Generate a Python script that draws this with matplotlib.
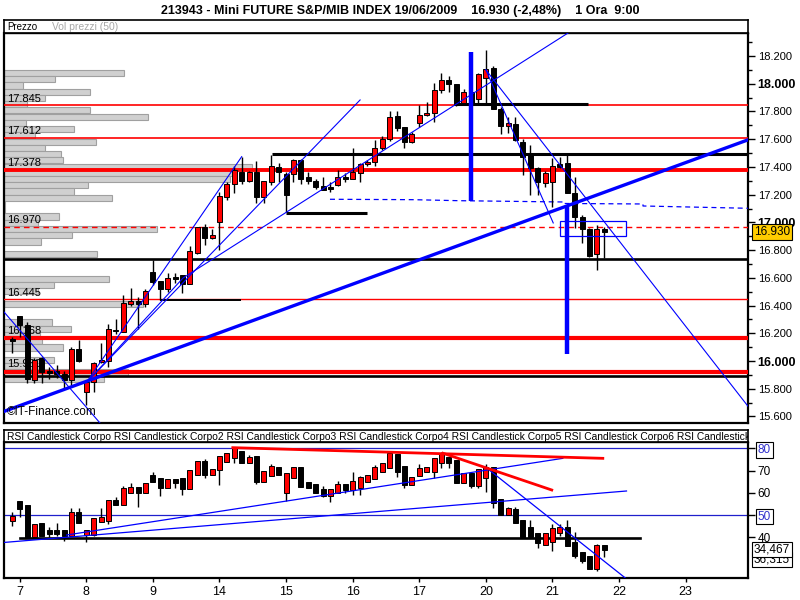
import matplotlib
matplotlib.use('Agg')
import matplotlib.pyplot as plt
from matplotlib.patches import Rectangle
import matplotlib.transforms as mtransforms

plt.rcParams['font.family'] = ['Liberation Sans', 'DejaVu Sans']

# ---------------- DATA ----------------
title = "213943 - Mini FUTURE S&P/MIB INDEX 19/06/2009    16.930 (-2,48%)    1 Ora  9:00"
day_labels = ['7', '8', '9', '14', '15', '16', '17', '20', '21', '22', '23']
day_ticks = [1, 10, 19, 28, 37, 46, 55, 64, 73, 82, 91]

p_open = [16.155, 16.325, 16.26, 15.865, 16.02, 15.93, 15.925, 15.91, 15.86, 16.085,
          15.78, 15.85, 15.99, 16.0, 16.225, 16.21, 16.41, 16.43, 16.41, 16.64,
          16.58, 16.52, 16.60, 16.62, 16.555, 16.78, 16.97, 16.89, 17.0, 17.18,
          17.277, 17.366, 17.30, 17.366, 17.18, 17.294, 17.397, 17.35, 17.35, 17.45,
          17.325, 17.30, 17.263, 17.258, 17.27, 17.325, 17.31, 17.354, 17.42, 17.438,
          17.54, 17.60, 17.77, 17.686, 17.58, 17.715, 17.773, 17.787, 17.955, 18.03,
          17.996, 17.86, 17.94, 17.888, 18.04, 18.116, 17.818, 17.695, 17.707, 17.578,
          17.486, 17.395, 17.287, 17.294, 17.42, 17.426, 17.21, 17.04, 16.95, 16.77,
          16.955]
p_high = [16.175, 16.325, 16.285, 16.025, 16.03, 15.96, 15.97, 15.925, 16.10, 16.15,
          15.85, 15.995, 16.13, 16.27, 16.30, 16.475, 16.53, 16.46, 16.52, 16.73,
          16.58, 16.635, 16.635, 16.62, 16.83, 16.97, 16.985, 16.95, 17.22, 17.29,
          17.41, 17.47, 17.37, 17.44, 17.30, 17.486, 17.43, 17.36, 17.46, 17.46,
          17.36, 17.31, 17.33, 17.29, 17.38, 17.354, 17.535, 17.43, 17.45, 17.595,
          17.62, 17.806, 17.80, 17.69, 17.65, 17.847, 17.87, 18.003, 18.08, 18.056,
          17.996, 17.96, 17.96, 18.08, 18.24, 18.13, 17.835, 17.758, 17.758, 17.60,
          17.558, 17.40, 17.37, 17.462, 17.47, 17.498, 17.33, 17.053, 16.96, 16.98,
          16.97]
p_low = [16.055, 16.17, 15.84, 15.84, 15.84, 15.87, 15.88, 15.80, 15.83, 15.99,
         15.68, 15.78, 15.985, 15.96, 16.195, 16.21, 16.40, 16.23, 16.39, 16.55,
         16.44, 16.50, 16.56, 16.49, 16.555, 16.77, 16.84, 16.88, 16.80, 17.16,
         17.21, 17.28, 17.29, 17.14, 17.14, 17.27, 17.29, 17.077, 17.29, 17.28,
         17.277, 17.24, 17.23, 17.22, 17.26, 17.294, 17.31, 17.29, 17.41, 17.41,
         17.52, 17.59, 17.66, 17.54, 17.57, 17.686, 17.765, 17.727, 17.93, 17.943,
         17.84, 17.847, 17.85, 17.847, 17.847, 17.815, 17.638, 17.647, 17.59, 17.342,
         17.198, 17.198, 17.258, 17.113, 17.39, 17.21, 16.957, 16.854, 16.75, 16.657,
         16.74]
p_close = [16.145, 16.26, 15.87, 16.01, 15.92, 15.915, 15.905, 15.86, 16.085, 16.0,
           15.85, 15.985, 16.01, 16.23, 16.215, 16.42, 16.43, 16.41, 16.505, 16.57,
           16.52, 16.60, 16.595, 16.555, 16.79, 16.97, 16.885, 16.91, 17.19, 17.275,
           17.38, 17.30, 17.366, 17.185, 17.30, 17.407, 17.366, 17.20, 17.45, 17.313,
           17.30, 17.258, 17.234, 17.239, 17.325, 17.31, 17.366, 17.42, 17.436, 17.54,
           17.60, 17.76, 17.68, 17.58, 17.638, 17.775, 17.79, 17.955, 18.03, 18.0,
           17.85, 17.943, 17.86, 18.07, 18.104, 17.815, 17.695, 17.715, 17.594, 17.474,
           17.39, 17.294, 17.354, 17.407, 17.40, 17.21, 17.04, 16.95, 16.758, 16.95,
           16.93]

r_open = [47.45, 56.3, 54.5, 40.25, 46.25, 43.25, 43.25, 43.25, 40.55, 51.2,
          41.0, 41.0, 46.7, 47.45, 56.75, 54.5, 60.05, 62.6, 59.75, 68.0,
          66.5, 62.0, 66.2, 66.5, 61.55, 68.0, 74.3, 68.0, 70.25, 74.0,
          75.5, 78.8, 73.25, 76.55, 64.7, 67.7, 71.75, 59.75, 66.8, 71.45,
          64.7, 63.8, 61.55, 58.7, 60.05, 63.8, 61.25, 62.3, 65.0, 66.05,
          69.5, 71.0, 77.3, 72.05, 63.5, 67.7, 69.2, 69.2, 73.55, 76.25,
          74.75, 64.25, 68.75, 63.2, 66.8, 71.45, 57.2, 50.0, 52.7, 47.75,
          44.45, 41.75, 36.5, 38.0, 41.75, 44.75, 38.0, 33.2, 31.55, 25.7,
          36.5]
r_high = [51.2, 56.3, 54.5, 45.95, 46.25, 44.45, 46.25, 43.25, 53.0, 53.0,
          43.25, 48.5, 53.0, 56.75, 58.25, 63.05, 64.25, 62.6, 64.25, 69.5,
          66.5, 66.2, 66.2, 66.5, 70.25, 74.3, 75.0, 70.55, 76.55, 77.75,
          80.75, 78.8, 77.0, 76.55, 69.8, 72.8, 71.75, 69.05, 71.45, 71.45,
          64.7, 63.8, 63.05, 61.55, 65.3, 63.8, 69.5, 67.7, 68.0, 72.5,
          73.25, 78.2, 77.3, 72.05, 67.25, 72.8, 71.45, 75.8, 78.2, 76.25,
          74.75, 68.75, 68.75, 70.7, 72.8, 71.45, 57.2, 53.75, 53.75, 47.75,
          47.75, 41.75, 41.75, 45.8, 45.8, 47.75, 42.2, 33.2, 31.55, 36.8,
          36.5]
r_low = [45.2, 49.25, 39.8, 39.8, 40.4, 39.95, 40.5, 38.45, 40.55, 46.25,
         38.0, 40.7, 46.7, 46.0, 54.5, 54.5, 60.05, 53.75, 59.75, 64.7,
         58.7, 62.0, 62.0, 59.0, 61.55, 68.0, 66.5, 68.0, 63.5, 74.0,
         73.25, 73.25, 73.25, 64.0, 64.7, 67.7, 68.0, 56.3, 66.8, 62.75,
         62.0, 59.75, 58.25, 56.0, 60.05, 60.05, 59.0, 59.0, 65.0, 66.05,
         69.5, 71.0, 67.0, 62.0, 63.5, 67.7, 69.2, 66.8, 71.0, 71.0,
         64.25, 64.25, 62.0, 62.0, 60.5, 53.3, 50.0, 50.0, 46.25, 40.25,
         39.95, 35.3, 36.5, 33.8, 40.7, 36.2, 30.5, 28.25, 25.7, 24.8,
         31.0]
r_close = [49.7, 52.55, 39.8, 45.95, 40.7, 41.3, 41.3, 40.55, 51.2, 46.25,
           43.25, 48.5, 48.95, 56.75, 54.5, 62.3, 62.6, 59.75, 64.25, 64.7,
           62.0, 66.2, 64.25, 61.55, 70.25, 74.3, 68.0, 70.55, 76.55, 77.75,
           80.0, 73.25, 76.25, 65.0, 69.8, 72.2, 68.0, 69.05, 71.45, 62.75,
           62.0, 59.75, 58.55, 61.55, 63.8, 61.25, 65.3, 66.95, 68.0, 71.75,
           73.25, 77.75, 69.5, 63.5, 67.25, 71.3, 71.45, 75.5, 77.75, 73.55,
           64.25, 68.75, 63.2, 70.7, 71.45, 55.25, 50.0, 53.0, 46.25, 40.25,
           39.95, 37.25, 41.75, 44.0, 44.75, 36.2, 31.7, 29.3, 25.7, 36.5,
           34.47]

# volume profile (50 price bins, top bin first)
prof_top = 18.10
prof_step = 0.045
prof_vol = [120, 51, 19, 86, 41, 23, 86, 144, 22, 70,
            31, 92, 41, 57, 59, 248, 229, 226, 84, 70,
            108, 1, 1, 55, 34, 153, 68, 37, 0, 93,
            0, 0, 0, 105, 50, 34, 0, 139, 0, 0,
            48, 67, 36, 38, 59, 0, 50, 35, 124, 100]

# horizontal levels
red_levels = [17.845, 17.612, 17.378, 16.970, 16.445, 16.168, 15.92]
red_widths = [1.2, 1.2, 2.8, 1.0, 1.0, 3.0, 3.0]
red_dashed = [False, False, False, True, False, False, False]
level_labels = ['17.845', '17.612', '17.378', '16.970', '16.445', '16.168', '15.930']
level_label_y = [17.845, 17.612, 17.378, 16.970, 16.445, 16.168, 15.930]
black_full_levels = [16.738, 15.895]
black_seg_level = [17.49, 17.07, 17.855, 16.44]
black_seg_start = [35.1, 37.0, 60.1, 20.0]
black_seg_end = [99.5, 47.9, 77.8, 30.9]

# trend lines (bar index, price)
thick_line_x = [-1.2, 99.4]
thick_line_y = [15.635, 17.595]
thin_lines = [
    ([9.96, 31.0], [15.841, 17.474]),
    ([10.5, 47.0], [15.872, 17.883]),
    ([10.5, 23.1, 75.1], [15.872, 16.60, 18.366]),
    ([64.0, 99.4], [18.10, 15.675]),
    ([64.0, 73.1], [18.10, 16.996]),
    ([-1.12, 11.85], [16.354, 15.553]),
]
dash_x = [42.93, 54.15, 60.23, 74.42, 74.42, 85.23, 85.23, 99.42]
dash_y = [17.1667, 17.1638, 17.1566, 17.1472, 17.1364, 17.1328, 17.1183, 17.1017]
vbar_x = [62.0, 75.0]
vbar_lo = [17.157, 16.05]
vbar_hi = [18.232, 17.12]
rect_x0, rect_x1 = 74.0, 83.0
rect_y0, rect_y1 = 16.904, 17.01

# RSI lines
rsi_blue_levels = [80, 50]
rsi_black_level = 39.8
rsi_black_x = [1, 84.8]
rsi_blue_lines = [
    ([-1.66, 83.0], [37.5, 60.8]),
    ([7.35, 74.4], [41.0, 75.5]),
    ([63.9, 82.9], [71.7, 21.5]),
]
rsi_red_lines = [
    ([29.8, 79.8], [80.3, 75.5]),
    ([58.2, 72.9], [77.8, 61.25]),
]

# ---------------- FIGURE ----------------
W, H = 800, 600
fig = plt.figure(figsize=(8, 6), dpi=100)
fig.patch.set_facecolor('white')


def px_axes(l, t, r, b):
    return fig.add_axes([l / W, 1 - b / H, (r - l) / W, (b - t) / H])


XL = (-1.12, 99.42)
RED = '#FF0000'
BLUE = '#0000FF'


def draw_candles(ax, o, h, l, c, minh, width=0.68):
    for i in range(len(o)):
        up = c[i] > o[i]
        ax.vlines(i, l[i], h[i], color='black', lw=1.0, zorder=4)
        bottom = min(o[i], c[i])
        height = max(abs(c[i] - o[i]), minh)
        ax.add_patch(Rectangle((i - width / 2, bottom), width, height,
                               facecolor=RED if up else 'black', edgecolor='black',
                               lw=0.7, zorder=5))


def frame(ax, lw=1.6):
    for s in ax.spines.values():
        s.set_linewidth(lw)
        s.set_color('black')


fig.text(0.5, 1 - 11 / H, title, ha='center', va='center', fontsize=9,
         family=['Liberation Sans Narrow', 'Liberation Sans', 'DejaVu Sans'], fontweight='bold')

# header of price panel
hd = px_axes(4, 20, 748, 33)
hd.set_xticks([]); hd.set_yticks([])
frame(hd, 1.2)
hd.text(0.004, 0.45, 'Prezzo', fontsize=7, va='center', transform=hd.transAxes)
hd.text(0.065, 0.45, 'Vol prezzi (50)', fontsize=7.5, va='center', color='#A8A8A8',
        transform=hd.transAxes)

# price panel
ax = px_axes(4, 33, 748, 423)
ax.set_xlim(*XL)
ax.set_ylim(15.553, 18.366)
frame(ax, 1.6)
ax.spines['top'].set_linewidth(1.0)

# volume profile
for k, v in enumerate(prof_vol):
    if v <= 0:
        continue
    top = prof_top - k * prof_step
    ax.barh(top - prof_step / 2, v / 7.4, height=prof_step * 0.98, left=XL[0],
            color='#D0D0D0', edgecolor='#A0A0A0', lw=0.8, zorder=1)

# level labels
lt = mtransforms.blended_transform_factory(ax.transAxes, ax.transData)
for lab, yv in zip(level_labels, level_label_y):
    ax.text(0.004, yv + 0.012, lab, fontsize=8, va='bottom', ha='left',
            transform=lt, zorder=2)

# horizontal lines
for yv, lw, dsh in zip(red_levels, red_widths, red_dashed):
    ax.axhline(yv, color=RED, lw=lw, ls=(0, (4, 3)) if dsh else '-', zorder=3)
for yv in black_full_levels:
    ax.axhline(yv, color='black', lw=1.9, zorder=3)
for yv, x0, x1 in zip(black_seg_level, black_seg_start, black_seg_end):
    ax.plot([x0, x1], [yv, yv], color='black', lw=2.2 if yv > 17 else 1.4, zorder=3,
            solid_capstyle='butt')

# trend lines
ax.plot(thick_line_x, thick_line_y, color=BLUE, lw=2.4, zorder=6)
for xs, ys in thin_lines:
    ax.plot(xs, ys, color=BLUE, lw=0.8, zorder=6)
ax.plot(dash_x, dash_y, color=BLUE, lw=0.9, ls=(0, (4, 3)), zorder=3)
for xv, lo, hi in zip(vbar_x, vbar_lo, vbar_hi):
    ax.plot([xv, xv], [lo, hi], color=BLUE, lw=3.2, zorder=7, solid_capstyle='butt')
ax.add_patch(Rectangle((rect_x0, rect_y0), rect_x1 - rect_x0, rect_y1 - rect_y0,
                       fill=False, edgecolor=BLUE, lw=0.9, zorder=7))

draw_candles(ax, p_open, p_high, p_low, p_close, 0.012)

ax.text(0.004, 0.012, '\u00a9IT-Finance.com', fontsize=8.5, transform=ax.transAxes,
        va='bottom', ha='left', zorder=8)

ax.set_xticks([])
ax.yaxis.tick_right()
yt = [15.6 + 0.2 * k for k in range(14)]
ax.set_yticks(yt)
ax.set_yticklabels(['%.3f' % v for v in yt])
ax.set_yticks([15.7 + 0.2 * k for k in range(14)], minor=True)
ax.tick_params(axis='y', which='major', length=5, width=1.0, pad=2, labelsize=8)
ax.tick_params(axis='y', which='minor', length=3, width=1.0)
for lab in ax.get_yticklabels():
    if lab.get_text() in ('16.000', '17.000', '18.000'):
        lab.set_fontweight('bold')
        lab.set_fontsize(9)

ax.text(1.008, p_close[-1], '%.3f' % p_close[-1], fontsize=8.5, va='center', ha='left',
        transform=lt,
        bbox=dict(boxstyle='square,pad=0.15', facecolor='#FFCC00', edgecolor='black', lw=0.8),
        zorder=10, clip_on=False)

# RSI header
rh = px_axes(4, 430, 748, 442)
rh.set_xticks([]); rh.set_yticks([])
frame(rh, 1.2)
rh.text(0.004, 0.45, 'RSI Candlestick Corpo RSI Candlestick Corpo2 RSI Candlestick Corpo3 '
        'RSI Candlestick Corpo4 RSI Candlestick Corpo5 RSI Candlestick Corpo6 RSI Candlestick',
        fontsize=7.4, va='center', transform=rh.transAxes, clip_on=True)

# RSI panel
ra = px_axes(4, 442, 748, 578)
ra.set_xlim(*XL)
ra.set_ylim(21.65, 82.85)
frame(ra, 1.6)
ra.spines['top'].set_linewidth(1.0)
for lv in rsi_blue_levels:
    ra.axhline(lv, color='#2020CC', lw=0.9, zorder=2)
ra.plot(rsi_black_x, [rsi_black_level, rsi_black_level], color='black', lw=1.9, zorder=3)
for xs, ys in rsi_blue_lines:
    ra.plot(xs, ys, color=BLUE, lw=0.9, zorder=6)
for xs, ys in rsi_red_lines:
    ra.plot(xs, ys, color=RED, lw=2.0, zorder=6)
draw_candles(ra, r_open, r_high, r_low, r_close, 0.5)

ra.yaxis.tick_right()
ra.set_yticks([40, 50, 60, 70, 80])
ra.set_yticklabels(['40', '50', '60', '70', '80'])
ra.tick_params(axis='y', length=5, width=1.0, pad=2, labelsize=8.5)
for lab in ra.get_yticklabels():
    if lab.get_text() in ('80', '50'):
        lab.set_color('#3030CC')
        lab.set_bbox(dict(boxstyle='square,pad=0.15', facecolor='white', edgecolor='black', lw=0.8))
ra.set_xticks(day_ticks)
ra.set_xticklabels(day_labels)
ra.tick_params(axis='x', length=3, width=1.0, pad=3, labelsize=9)

bt = mtransforms.blended_transform_factory(ra.transAxes, ra.transData)
ra.text(1.008, 30.0, '36,315', fontsize=8.5, va='center', ha='left', transform=bt,
        bbox=dict(boxstyle='square,pad=0.15', facecolor='white', edgecolor='black', lw=0.8),
        zorder=9, clip_on=False)
ra.text(1.008, r_close[-1], '34,467', fontsize=8.5, va='center', ha='left', transform=bt,
        bbox=dict(boxstyle='square,pad=0.15', facecolor='white', edgecolor='black', lw=0.8),
        zorder=10, clip_on=False)

fig.savefig('out.png', dpi=100)
